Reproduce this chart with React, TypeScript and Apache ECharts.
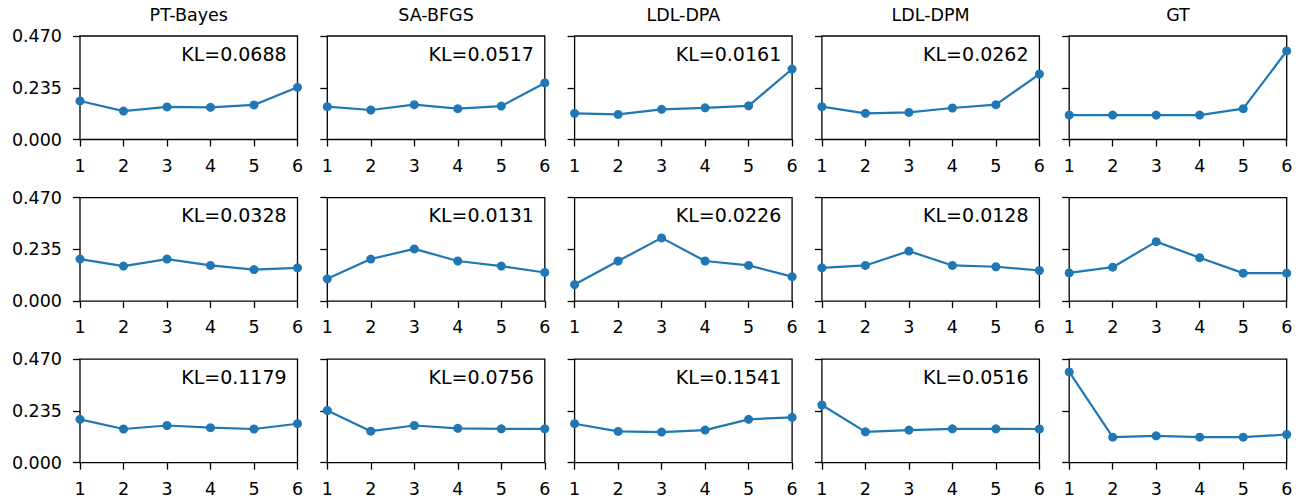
import { useEffect, useRef } from "react";
import * as echarts from "echarts";

const xLabels = [1, 2, 3, 4, 5, 6];
const methods = ["PT-Bayes", "SA-BFGS", "LDL-DPA", "LDL-DPM", "GT"];

// Row 1
const r1PTBayes = [0.175, 0.129, 0.148, 0.146, 0.157, 0.237];
const r1SABFGS = [0.149, 0.134, 0.158, 0.140, 0.152, 0.257];
const r1LDLDPA = [0.119, 0.114, 0.137, 0.144, 0.153, 0.320];
const r1LDLDPM = [0.149, 0.119, 0.123, 0.143, 0.158, 0.297];
const r1GT = [0.111, 0.111, 0.111, 0.111, 0.140, 0.402];
const r1KL = ["0.0688", "0.0517", "0.0161", "0.0262"];

// Row 2
const r2PTBayes = [0.191, 0.159, 0.191, 0.162, 0.143, 0.151];
const r2SABFGS = [0.101, 0.191, 0.237, 0.182, 0.159, 0.130];
const r2LDLDPA = [0.075, 0.182, 0.287, 0.182, 0.162, 0.111];
const r2LDLDPM = [0.151, 0.162, 0.227, 0.162, 0.156, 0.139];
const r2GT = [0.128, 0.154, 0.270, 0.197, 0.127, 0.127];
const r2KL = ["0.0328", "0.0131", "0.0226", "0.0128"];

// Row 3
const r3PTBayes = [0.197, 0.153, 0.169, 0.159, 0.153, 0.177];
const r3SABFGS = [0.237, 0.143, 0.169, 0.156, 0.154, 0.154];
const r3LDLDPA = [0.177, 0.142, 0.139, 0.148, 0.197, 0.206];
const r3LDLDPM = [0.262, 0.140, 0.148, 0.154, 0.154, 0.153];
const r3GT = [0.412, 0.116, 0.122, 0.116, 0.116, 0.128];
const r3KL = ["0.1179", "0.0756", "0.1541", "0.0516"];

const rows = [
  [r1PTBayes, r1SABFGS, r1LDLDPA, r1LDLDPM, r1GT],
  [r2PTBayes, r2SABFGS, r2LDLDPA, r2LDLDPM, r2GT],
  [r3PTBayes, r3SABFGS, r3LDLDPA, r3LDLDPM, r3GT],
];
const klRows = [r1KL, r2KL, r3KL];

const yMin = 0;
const yMax = 0.47;
const yStep = 0.235;

const FONT = '"DejaVu Sans", sans-serif';
const BLUE = "#1f77b4";

export default function App() {
  const ref = useRef<HTMLDivElement>(null);
  useEffect(() => {
    if (!ref.current) return;
    const chart = echarts.init(ref.current, null, { renderer: "svg" });
    const left0 = 80;
    const colStep = 247.3;
    const top0 = 36;
    const rowStep = 161.6;
    const w = 217.5;
    const h = 103.5;

    const grids: any[] = [];
    const xAxes: any[] = [];
    const yAxes: any[] = [];
    const series: any[] = [];
    const graphics: any[] = [];

    rows.forEach((row, r) => {
      row.forEach((vals, c) => {
        const i = r * 5 + c;
        const left = left0 + c * colStep;
        const top = top0 + r * rowStep;
        grids.push({
          left,
          top,
          width: w,
          height: h,
          show: true,
          borderColor: "#000",
          borderWidth: 1.3,
          backgroundColor: "transparent",
        });
        xAxes.push({
          type: "value",
          gridIndex: i,
          min: 1,
          max: 6,
          interval: 1,
          axisLine: { show: false },
          axisTick: { show: true, length: 7, lineStyle: { color: "#000", width: 1.3 } },
          splitLine: { show: false },
          axisLabel: { color: "#000", fontSize: 17.5, fontFamily: FONT, margin: 17 },
        });
        yAxes.push({
          type: "value",
          gridIndex: i,
          min: yMin,
          max: yMax,
          interval: yStep,
          axisLine: { show: false },
          axisTick: { show: true, length: 7, lineStyle: { color: "#000", width: 1.3 } },
          splitLine: { show: false },
          axisLabel: {
            show: c === 0,
            color: "#000",
            fontSize: 17.5,
            fontFamily: FONT,
            margin: 18,
            formatter: (v: number) => v.toFixed(3),
          },
        });
        series.push({
          type: "line",
          xAxisIndex: i,
          yAxisIndex: i,
          data: xLabels.map((x, j) => [x, vals[j]]),
          symbol: "circle",
          symbolSize: 9,
          lineStyle: { color: BLUE, width: 2.2 },
          itemStyle: { color: BLUE },
          clip: true,
        });
        const kl = klRows[r][c];
        if (kl !== undefined) {
          graphics.push({
            type: "text",
            x: left + 0.95 * w,
            y: top + 17.8,
            style: {
              text: "KL=" + kl,
              fontSize: 19,
              fontFamily: FONT,
              fill: "#000",
              align: "right",
              verticalAlign: "middle",
            },
          });
        }
        if (r === 0) {
          graphics.push({
            type: "text",
            x: left + w / 2,
            y: 15,
            style: {
              text: methods[c],
              fontSize: 17.5,
              fontFamily: FONT,
              fill: "#000",
              align: "center",
              verticalAlign: "middle",
            },
          });
        }
      });
    });

    chart.setOption({
      animation: false,
      backgroundColor: "#fff",
      grid: grids,
      xAxis: xAxes,
      yAxis: yAxes,
      series,
      graphic: graphics,
    });
    return () => chart.dispose();
  }, []);
  return (
    <div
      ref={ref}
      style={{ position: "absolute", left: 0, top: 0, width: 1304, height: 500 }}
    />
  );
}
